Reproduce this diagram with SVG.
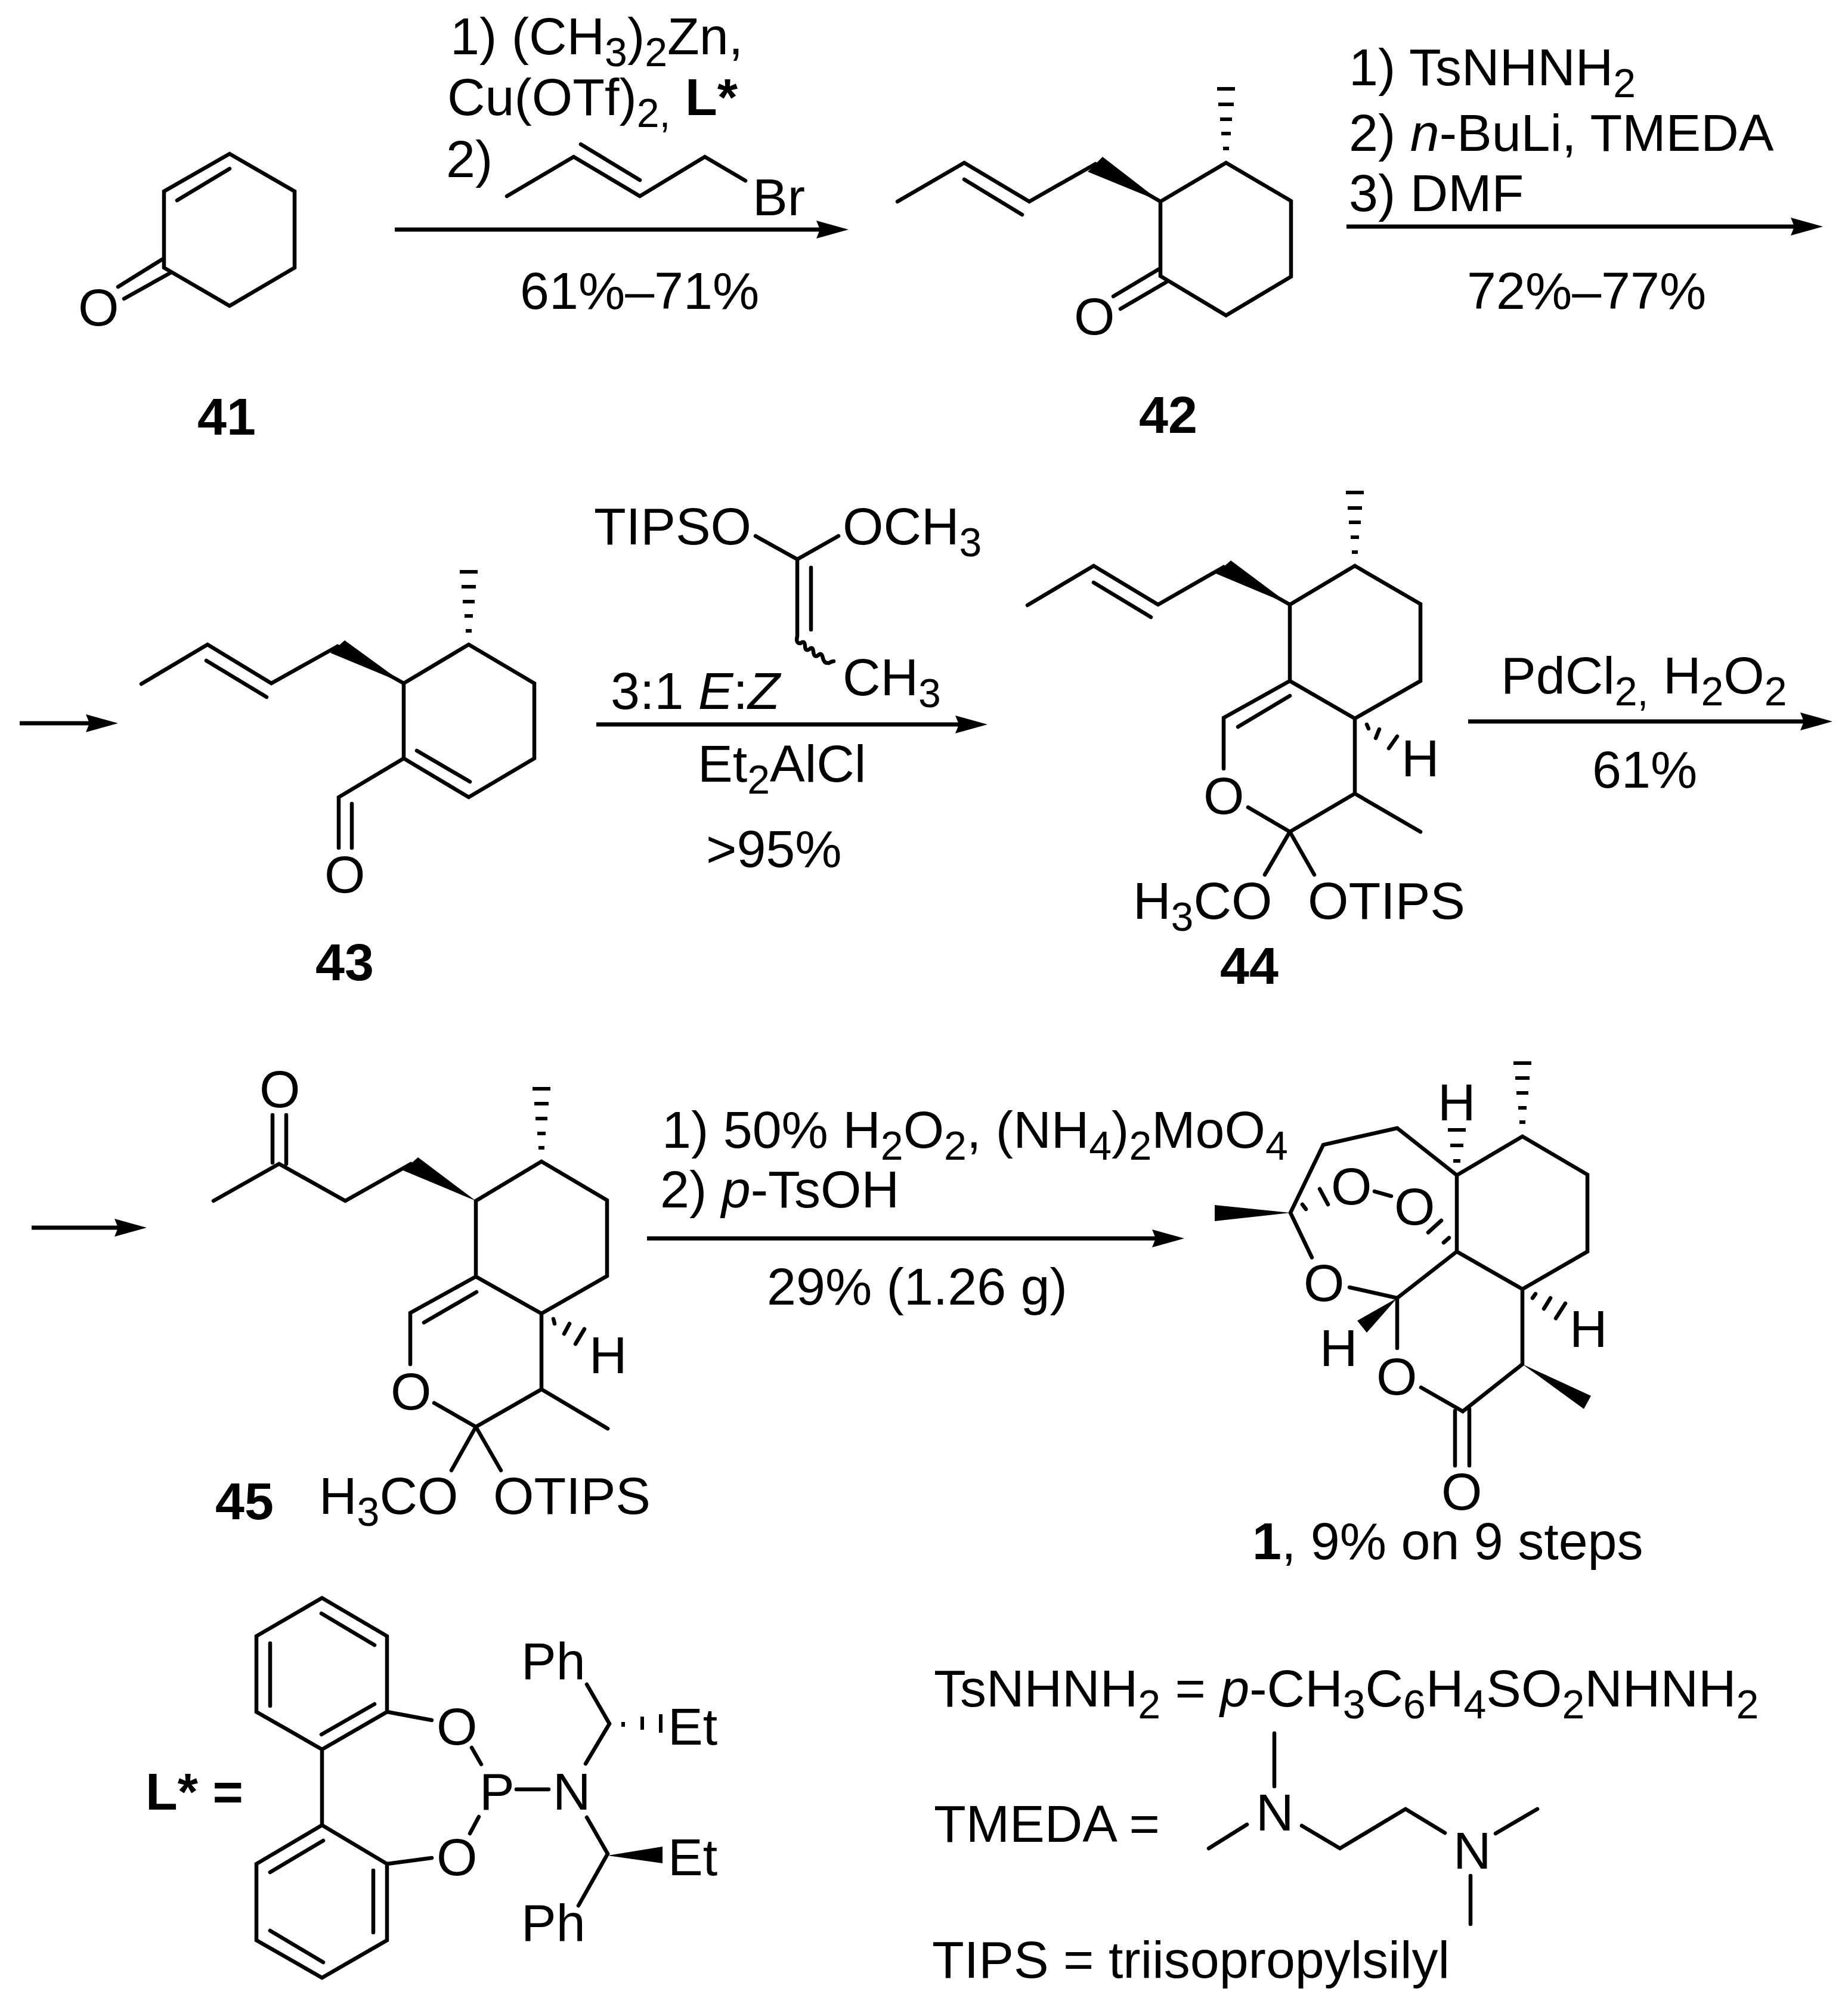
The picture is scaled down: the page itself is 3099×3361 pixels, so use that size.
<svg xmlns="http://www.w3.org/2000/svg" width="3099" height="3361" viewBox="0 0 3099 3361">
<style>
text{font-family:"Liberation Sans",Arial,sans-serif;font-size:88px;fill:#000}
.b{font-weight:bold}
.i{font-style:italic}
.s{font-size:68px}
.bond{fill:none;stroke:#000;stroke-width:6.5;stroke-linecap:round;stroke-linejoin:miter}
.hash{fill:none;stroke:#000;stroke-width:6}
.wedge{fill:#000;stroke:none}
.arrow{fill:none;stroke:#000;stroke-width:7;marker-end:url(#head)}
</style>
<defs>
<marker id="head" markerUnits="userSpaceOnUse" markerWidth="54" markerHeight="30" viewBox="0 0 54 30" refX="27" refY="15" orient="auto"><path d="M0,0L54,15L0,30L6,15Z" fill="#000"/></marker>
</defs>
<rect width="3099" height="3361" fill="#fff"/>
<g id="connectors">
<line class="arrow" x1="662" y1="385" x2="1396" y2="385"/>
<line class="arrow" x1="2258" y1="380" x2="3030" y2="380"/>
<line class="arrow" x1="33" y1="1213" x2="171" y2="1213"/>
<line class="arrow" x1="1000" y1="1215" x2="1629" y2="1215"/>
<line class="arrow" x1="2462" y1="1210" x2="3046" y2="1210"/>
<line class="arrow" x1="53" y1="2059" x2="219" y2="2059"/>
<line class="arrow" x1="1085" y1="2077" x2="1959" y2="2077"/>
</g>
<g id="compound-41">
<path class="bond" d="M385,258L494,321V449L385,513L275,449V321ZM297,336L385,283M272,435L198,481M285,458L208,501"/>
<text x="131" y="546">O</text>
<text class="b" x="331" y="729">41</text>
</g>
<g id="reagents-1">
<text x="755" y="91">1) (CH<tspan class="s" dy="20">3</tspan><tspan dy="-20">)</tspan><tspan class="s" dy="20">2</tspan><tspan dy="-20">Zn,</tspan></text>
<text x="750" y="193">Cu(OTf)<tspan class="s" dy="20">2,</tspan> <tspan class="b" dy="-20">L*</tspan></text>
<text x="748" y="297">2)</text>
<path class="bond" d="M850,329L962,263L1073,329L1182,263L1250,303M974,242L1073,302"/>
<text x="1262" y="361">Br</text>
<text x="872" y="518">61%–71%</text>
</g>
<g id="compound-42">
<path class="bond" d="M2056,273L2165,337V464L2056,529L1946,463V338ZM1946,338L1837,275M1837,275L1726,338L1617,273L1505,338M1617,301L1714,360M1944,451L1867,497M1956,473L1879,518"/>
<path class="wedge" d="M1946,338L1849,263L1824,288Z"/>
<path class="hash" d="M2041,149H2071M2043,175H2069M2046,200H2066M2048,224H2064M2051,249H2061"/>
<text x="1801" y="561">O</text>
<text class="b" x="1910" y="726">42</text>
</g>
<g id="reagents-2">
<text x="2262" y="143">1) TsNHNH<tspan class="s" dy="20">2</tspan></text>
<text x="2262" y="253">2) <tspan class="i">n</tspan>-BuLi, TMEDA</text>
<text x="2262" y="354">3) DMF</text>
<text x="2460" y="518">72%–77%</text>
</g>
<g id="compound-43">
<path class="bond" d="M786,1081L896,1146V1272L786,1337L677,1272V1146ZM677,1146L566,1084M566,1084L455,1146L348,1081L237,1147M346,1108L447,1169M699,1259L788,1311M677,1272L568,1337V1422M590,1348V1422"/>
<path class="wedge" d="M677,1146L578,1074L554,1095Z"/>
<path class="hash" d="M771,959H801M774,984H798M776,1009H796M779,1033H793M781,1058H791"/>
<text x="544" y="1497">O</text>
<text class="b" x="529" y="1644">43</text>
</g>
<g id="reagents-3">
<text x="996" y="913">TIPSO</text>
<text x="1413" y="913">OCH<tspan class="s" dy="20">3</tspan></text>
<path class="bond" d="M1267,899L1337,938L1406,899M1337,938V1067M1360,952V1056M1337,1067q-3,12 5,12q7,-6 8,4q0,10 7,6q6,-6 7,4q1,11 8,6q6,-6 8,5q2,9 10,8q5,-3 8,-3"/>
<text x="1413" y="1166">CH<tspan class="s" dy="20">3</tspan></text>
<text x="1024" y="1189">3:1 <tspan class="i">E</tspan>:<tspan class="i">Z</tspan></text>
<text x="1170" y="1311">Et<tspan class="s" dy="20">2</tspan><tspan dy="-20">AlCl</tspan></text>
<text x="1184" y="1454">&gt;95%</text>
</g>
<g id="compound-44">
<path class="bond" d="M2272,949L2382,1013V1142L2272,1205L2163,1142V1014ZM2163,1014L2052,951M2052,951L1942,1014L1834,949L1723,1015M1834,977L1930,1035M2163,1142L2052,1204V1289M2163,1167L2076,1219M2093,1354L2163,1395L2272,1331V1205M2272,1331L2382,1395M2163,1395L2121,1467M2163,1395L2204,1467M2292,1215L2295,1222M2313,1223L2307,1238M2343,1235L2329,1255"/>
<path class="wedge" d="M2163,1014L2064,940L2039,962Z"/>
<path class="hash" d="M2257,826H2287M2260,852H2284M2262,876H2282M2265,901H2279M2267,926H2277"/>
<text x="2018" y="1365">O</text>
<text x="2350" y="1302">H</text>
<text x="1900" y="1541">H<tspan class="s" dy="20">3</tspan><tspan dy="-20">CO</tspan></text>
<text x="2193" y="1541">OTIPS</text>
<text class="b" x="2046" y="1650">44</text>
</g>
<g id="reagents-4">
<text x="2517" y="1163">PdCl<tspan class="s" dy="20">2,</tspan><tspan dy="-20"> H</tspan><tspan class="s" dy="20">2</tspan><tspan dy="-20">O</tspan><tspan class="s" dy="20">2</tspan></text>
<text x="2670" y="1321">61%</text>
</g>
<g id="compound-45">
<path class="bond" d="M358,2014L468,1952L579,2014L689,1952M798,2014L908,1948L1018,2013V2140L908,2203L798,2141V2014ZM457,1870V1950M480,1870V1952M798,2141L688,2202V2288M799,2167L711,2218M728,2353L798,2393L908,2330V2203M908,2330L1019,2396M798,2393L757,2466M798,2393L840,2466M928,2212L930,2220M955,2220L946,2237M980,2229L965,2254"/>
<path class="wedge" d="M798,2014L701,1941L676,1963Z"/>
<path class="hash" d="M893,1826H923M896,1851H920M898,1876H918M901,1901H915M903,1925H913"/>
<text x="435" y="1857">O</text>
<text x="655" y="2364">O</text>
<text x="988" y="2303">H</text>
<text x="535" y="2539">H<tspan class="s" dy="20">3</tspan><tspan dy="-20">CO</tspan></text>
<text x="827" y="2539">OTIPS</text>
<text class="b" x="361" y="2548">45</text>
</g>
<g id="reagents-5">
<text x="1110" y="1925">1) 50% H<tspan class="s" dy="20">2</tspan><tspan dy="-20">O</tspan><tspan class="s" dy="20">2</tspan><tspan dy="-20">, (NH</tspan><tspan class="s" dy="20">4</tspan><tspan dy="-20">)</tspan><tspan class="s" dy="20">2</tspan><tspan dy="-20">MoO</tspan><tspan class="s" dy="20">4</tspan></text>
<text x="1107" y="2025">2) <tspan class="i">p</tspan>-TsOH</text>
<text x="1286" y="2188">29% (1.26 g)</text>
</g>
<g id="compound-1">
<path class="bond" d="M2553,1906L2662,1970V2099L2553,2162L2443,2099V1971ZM2443,1971L2343,1892L2219,1920L2164,2034L2200,2109M2263,2159L2343,2177L2443,2099M2553,2162V2288L2453,2367L2383,2327M2343,2177V2261M2440,2366V2458M2464,2363V2458M2305,1998L2333,2006M2184,2020L2190,2028M2213,1994L2227,2020M2421,2084L2430,2076M2395,2067L2417,2047M2570,2177L2575,2170M2589,2195L2600,2177M2609,2211L2625,2186"/>
<path class="wedge" d="M2164,2034L2037,2021V2048ZM2343,2177L2276,2215L2292,2235ZM2553,2288L2668,2341L2656,2363Z"/>
<path class="hash" d="M2538,1783H2568M2541,1808H2565M2543,1833H2563M2546,1858H2560M2548,1882H2558M2428,1895H2458M2432,1921H2454M2437,1947H2449"/>
<text x="2411" y="1879">H</text>
<text x="2232" y="2020">O</text>
<text x="2338" y="2054">O</text>
<text x="2186" y="2182">O</text>
<text x="2632" y="2259">H</text>
<text x="2213" y="2291">H</text>
<text x="2308" y="2339">O</text>
<text x="2417" y="2532">O</text>
<text x="2100" y="2615"><tspan class="b">1</tspan>, 9% on 9 steps</text>
</g>
<g id="ligand-L">
<text class="b" x="244" y="3035">L* =</text>
<path class="bond" d="M540,2680L649,2744V2871L540,2934L430,2871V2744ZM453,2756V2861M539,2706L628,2759M628,2858L539,2909M540,2934V3061M540,3061L649,3126V3254L540,3317L430,3254V3126ZM542,3087L453,3140M626,3137V3241M453,3238L542,3291M649,2871L724,2885M649,3126L724,3116M791,2931L807,2959M803,3047L788,3075M866,3001H920M982,2958L1022,2891L984,2825M984,3048L1019,3109L970,3196"/>
<path class="wedge" d="M1019,3112L1111,3097V3125Z"/>
<path class="hash" d="M1045,2888V2896M1077,2879V2901M1108,2875V2906"/>
<text x="732" y="2926">O</text>
<text x="732" y="3145">O</text>
<text x="804" y="3035">P</text>
<text x="927" y="3035">N</text>
<text x="874" y="2816">Ph</text>
<text x="1120" y="2926">Et</text>
<text x="1120" y="3145">Et</text>
<text x="874" y="3255">Ph</text>
</g>
<g id="legend">
<text x="1566" y="2862">TsNHNH<tspan class="s" dy="20">2</tspan><tspan dy="-20"> = </tspan><tspan class="i">p</tspan>-CH<tspan class="s" dy="20">3</tspan><tspan dy="-20">C</tspan><tspan class="s" dy="20">6</tspan><tspan dy="-20">H</tspan><tspan class="s" dy="20">4</tspan><tspan dy="-20">SO</tspan><tspan class="s" dy="20">2</tspan><tspan dy="-20">NHNH</tspan><tspan class="s" dy="20">2</tspan></text>
<text x="1566" y="3089">TMEDA =</text>
<path class="bond" d="M2137,2907V2996M2091,3060L2027,3100M2183,3062L2247,3100L2357,3034L2423,3074M2508,3075L2578,3034M2466,3146V3227"/>
<text x="2106" y="3070">N</text>
<text x="2437" y="3134">N</text>
<text x="1563" y="3317">TIPS = triisopropylsilyl</text>
</g>
</svg>
